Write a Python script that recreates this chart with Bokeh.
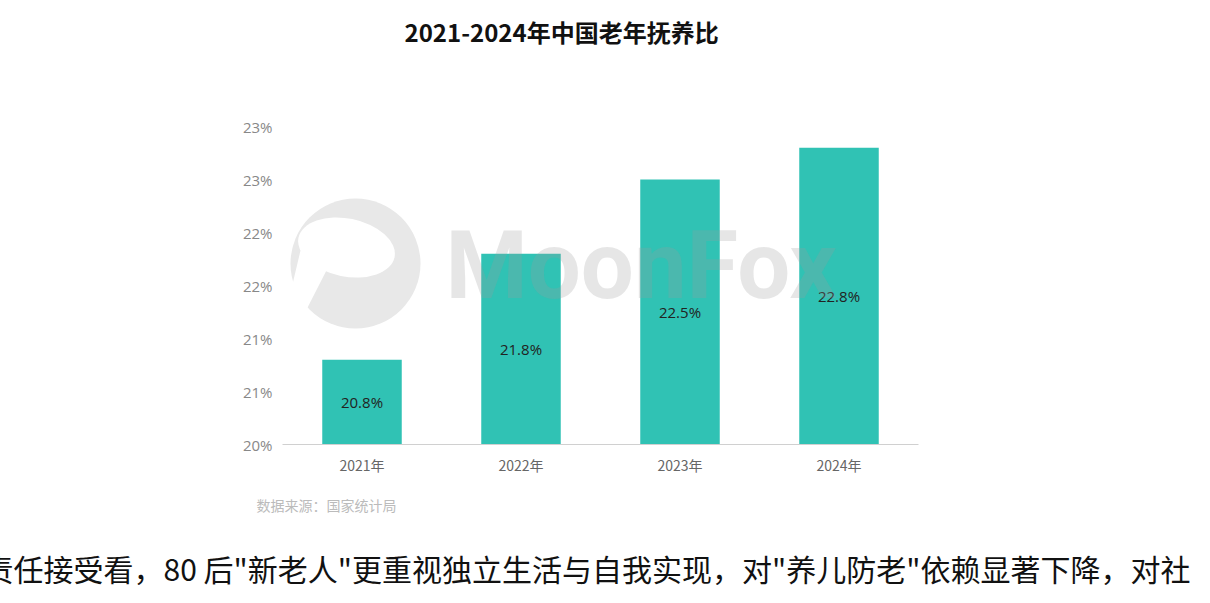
from bokeh.plotting import figure
from bokeh.models import ColumnDataSource, FixedTicker, Label, Range1d, Title
from bokeh.core.properties import value
from bokeh.embed import file_html
from bokeh.resources import INLINE

categories = ["2021年", "2022年", "2023年", "2024年"]
ratios = [20.8, 21.8, 22.5, 22.8]
bar_labels = ["20.8%", "21.8%", "22.5%", "22.8%"]
y_ticks = [20.0, 20.5, 21.0, 21.5, 22.0, 22.5, 23.0]
y_tick_labels = ["20%", "21%", "21%", "22%", "22%", "23%", "23%"]

title_text = "2021-2024年中国老年抚养比"
source_text = "数据来源：国家统计局"
body_text = '责任接受看，80 后"新老人"更重视独立生活与自我实现，对"养儿防老"依赖显著下降，对社'

CJK = "Noto Sans CJK SC"
W, H = 1210, 603
L, R, B = 282, 292, 159
AX_TOP = 126                      # pixel row of the 23% tick
FW, FH = W - L - R, H - B         # frame reaches the top edge; y axis has no line
XSPAN, Y0, YTOP = len(categories), 20.0, 23.0
Y1 = Y0 + (YTOP - Y0) * FH / (FH - AX_TOP)


def xd(px):
    return (px - L) / FW * XSPAN


def yd(py):
    return Y0 + (FH - py) / FH * (Y1 - Y0)


xs = [i + 0.5 for i in range(len(categories))]
src = ColumnDataSource(dict(x=xs, top=ratios, mid=[(Y0 + v) / 2 for v in ratios],
                            lab=bar_labels))

p = figure(width=W, height=H, output_backend="svg", toolbar_location=None, title=None,
           x_range=Range1d(0, XSPAN), y_range=Range1d(Y0, Y1),
           min_border_left=L, min_border_right=R, min_border_top=0, min_border_bottom=B)
p.outline_line_color = None
p.background_fill_color = "white"
p.border_fill_color = "white"
p.xgrid.visible = False
p.ygrid.visible = False

# MoonFox logo watermark (decoration, does not overlap bars)
wm = "#e8e8e8"
p.circle(x=[xd(355)], y=[yd(263)], radius=65, radius_units="screen", color=wm, line_color=None)
p.ellipse(x=[xd(346)], y=[yd(247)], width=98, height=58, width_units="screen",
          height_units="screen", angle=-0.2, color="white", line_color=None)
p.patch(x=[xd(291), xd(300), xd(330), xd(304), xd(285)],
        y=[yd(288), yd(250), yd(262), yd(313), yd(312)], color="white", line_color=None)

p.vbar(x="x", top="top", bottom=Y0, width=0.5, source=src, color="#30c2b4", line_color=None)
p.text(x="x", y="mid", text="lab", source=src, text_align="center", text_baseline="middle",
       text_font=value("Open Sans"), text_font_size="15px", text_color="#222222")

# MoonFox word watermark, semi-transparent over the bars
p.add_layout(Label(x=445 - L, y=FH - 265, x_units="screen", y_units="screen", text="MoonFox",
                   text_font="Roboto", text_font_size="94px", text_font_style="bold",
                   text_color="#9a9a9a", text_alpha=0.25, text_baseline="middle"))

# chart title
p.add_layout(Label(x=404 - L, y=FH - 31, x_units="screen", y_units="screen", text=title_text,
                   text_font=CJK, text_font_size="24px", text_font_style="bold",
                   text_color="#111111", text_baseline="middle"))

p.yaxis.ticker = FixedTicker(ticks=y_ticks)
p.yaxis.major_label_overrides = {t: l for t, l in zip(y_ticks, y_tick_labels)}
p.yaxis.axis_line_color = None
p.yaxis.major_tick_line_color = None
p.yaxis.minor_tick_line_color = None
p.yaxis.major_label_text_color = "#888888"
p.yaxis.major_label_text_font = "Open Sans"
p.yaxis.major_label_text_font_size = "15px"
p.yaxis.major_label_standoff = 4

p.xaxis.ticker = FixedTicker(ticks=xs)
p.xaxis.major_label_overrides = {x: c for x, c in zip(xs, categories)}
p.xaxis.axis_line_color = "#d0d0d0"
p.xaxis.major_tick_line_color = None
p.xaxis.minor_tick_line_color = None
p.xaxis.major_label_text_color = "#666666"
p.xaxis.major_label_text_font = CJK
p.xaxis.major_label_text_font_size = "14px"
p.xaxis.major_label_standoff = 4

p.add_layout(Title(text=source_text, align="left", offset=256 - L, standoff=31, text_font=CJK,
                   text_font_size="14px", text_font_style="normal", text_color="#bbbbbb"), "below")
p.add_layout(Title(text=body_text, align="left", offset=-17 - L, standoff=27, text_font=CJK,
                   text_font_size="30px", text_font_style="normal", text_color="#111111"), "below")

open("out.html", "w").write(file_html(p, INLINE))
